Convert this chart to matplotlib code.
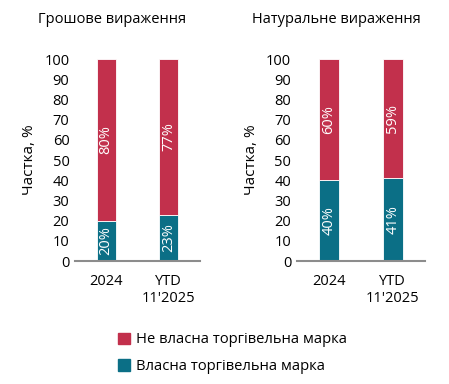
import matplotlib
matplotlib.use("Agg")
import matplotlib.pyplot as plt
from matplotlib.patches import Patch

plt.rcParams['font.family'] = ['Open Sans', 'DejaVu Sans']

categories = ["2024", "YTD\n11'2025"]
titles = ["Грошове вираження", "Натуральне вираження"]
own_brand = [[20, 23], [40, 41]]
other_brand = [[80, 77], [60, 59]]
legend_labels = ["Не власна торгівельна марка", "Власна торгівельна марка"]

red = "#c2304c"
teal = "#0b6f86"

fig = plt.figure(figsize=(4.49, 3.84), dpi=100)
boxes = [[0.167, 0.320, 0.278, 0.526], [0.661, 0.320, 0.285, 0.526]]
title_x = [0.30, 0.31]

for i in range(2):
    ax = fig.add_axes(boxes[i])
    x = range(len(categories))
    ax.bar(x, own_brand[i], width=0.31, color=teal, edgecolor="white", linewidth=0.6)
    ax.bar(x, other_brand[i], width=0.31, bottom=own_brand[i], color=red,
           edgecolor="white", linewidth=0.6)
    for j in x:
        ax.text(j, own_brand[i][j] / 2, f"{own_brand[i][j]}%", rotation=90,
                ha="center", va="center", color="white", fontsize=10.5)
        ax.text(j, own_brand[i][j] + other_brand[i][j] / 2, f"{other_brand[i][j]}%",
                rotation=90, ha="center", va="center", color="white", fontsize=10.5)
    ax.set_xlim(-0.5, 1.5)
    ax.set_ylim(0, 100)
    ax.set_yticks(range(0, 101, 10))
    ax.set_xticks(list(x))
    ax.set_xticklabels(categories, fontsize=10.5, linespacing=1.25)
    ax.tick_params(axis="both", length=0, labelsize=10.5)
    ax.tick_params(axis="y", pad=4)
    ax.tick_params(axis="x", pad=9)
    for s in ["top", "right", "left"]:
        ax.spines[s].set_visible(False)
    ax.spines["bottom"].set_color("#8c8c8c")
    ax.spines["bottom"].set_linewidth(1.5)
    ax.set_ylabel("Частка, %", fontsize=11, labelpad=5)
    ax.set_title(titles[i], fontsize=10.5, pad=26, x=title_x[i])

handles = [Patch(color=red), Patch(color=teal)]
fig.legend(handles, legend_labels, loc="center", bbox_to_anchor=(0.518, 0.08),
           frameon=False, fontsize=10.6, handlelength=0.8, handleheight=0.8,
           handletextpad=0.4, labelspacing=0.8)

fig.savefig("out.png", dpi=100)
